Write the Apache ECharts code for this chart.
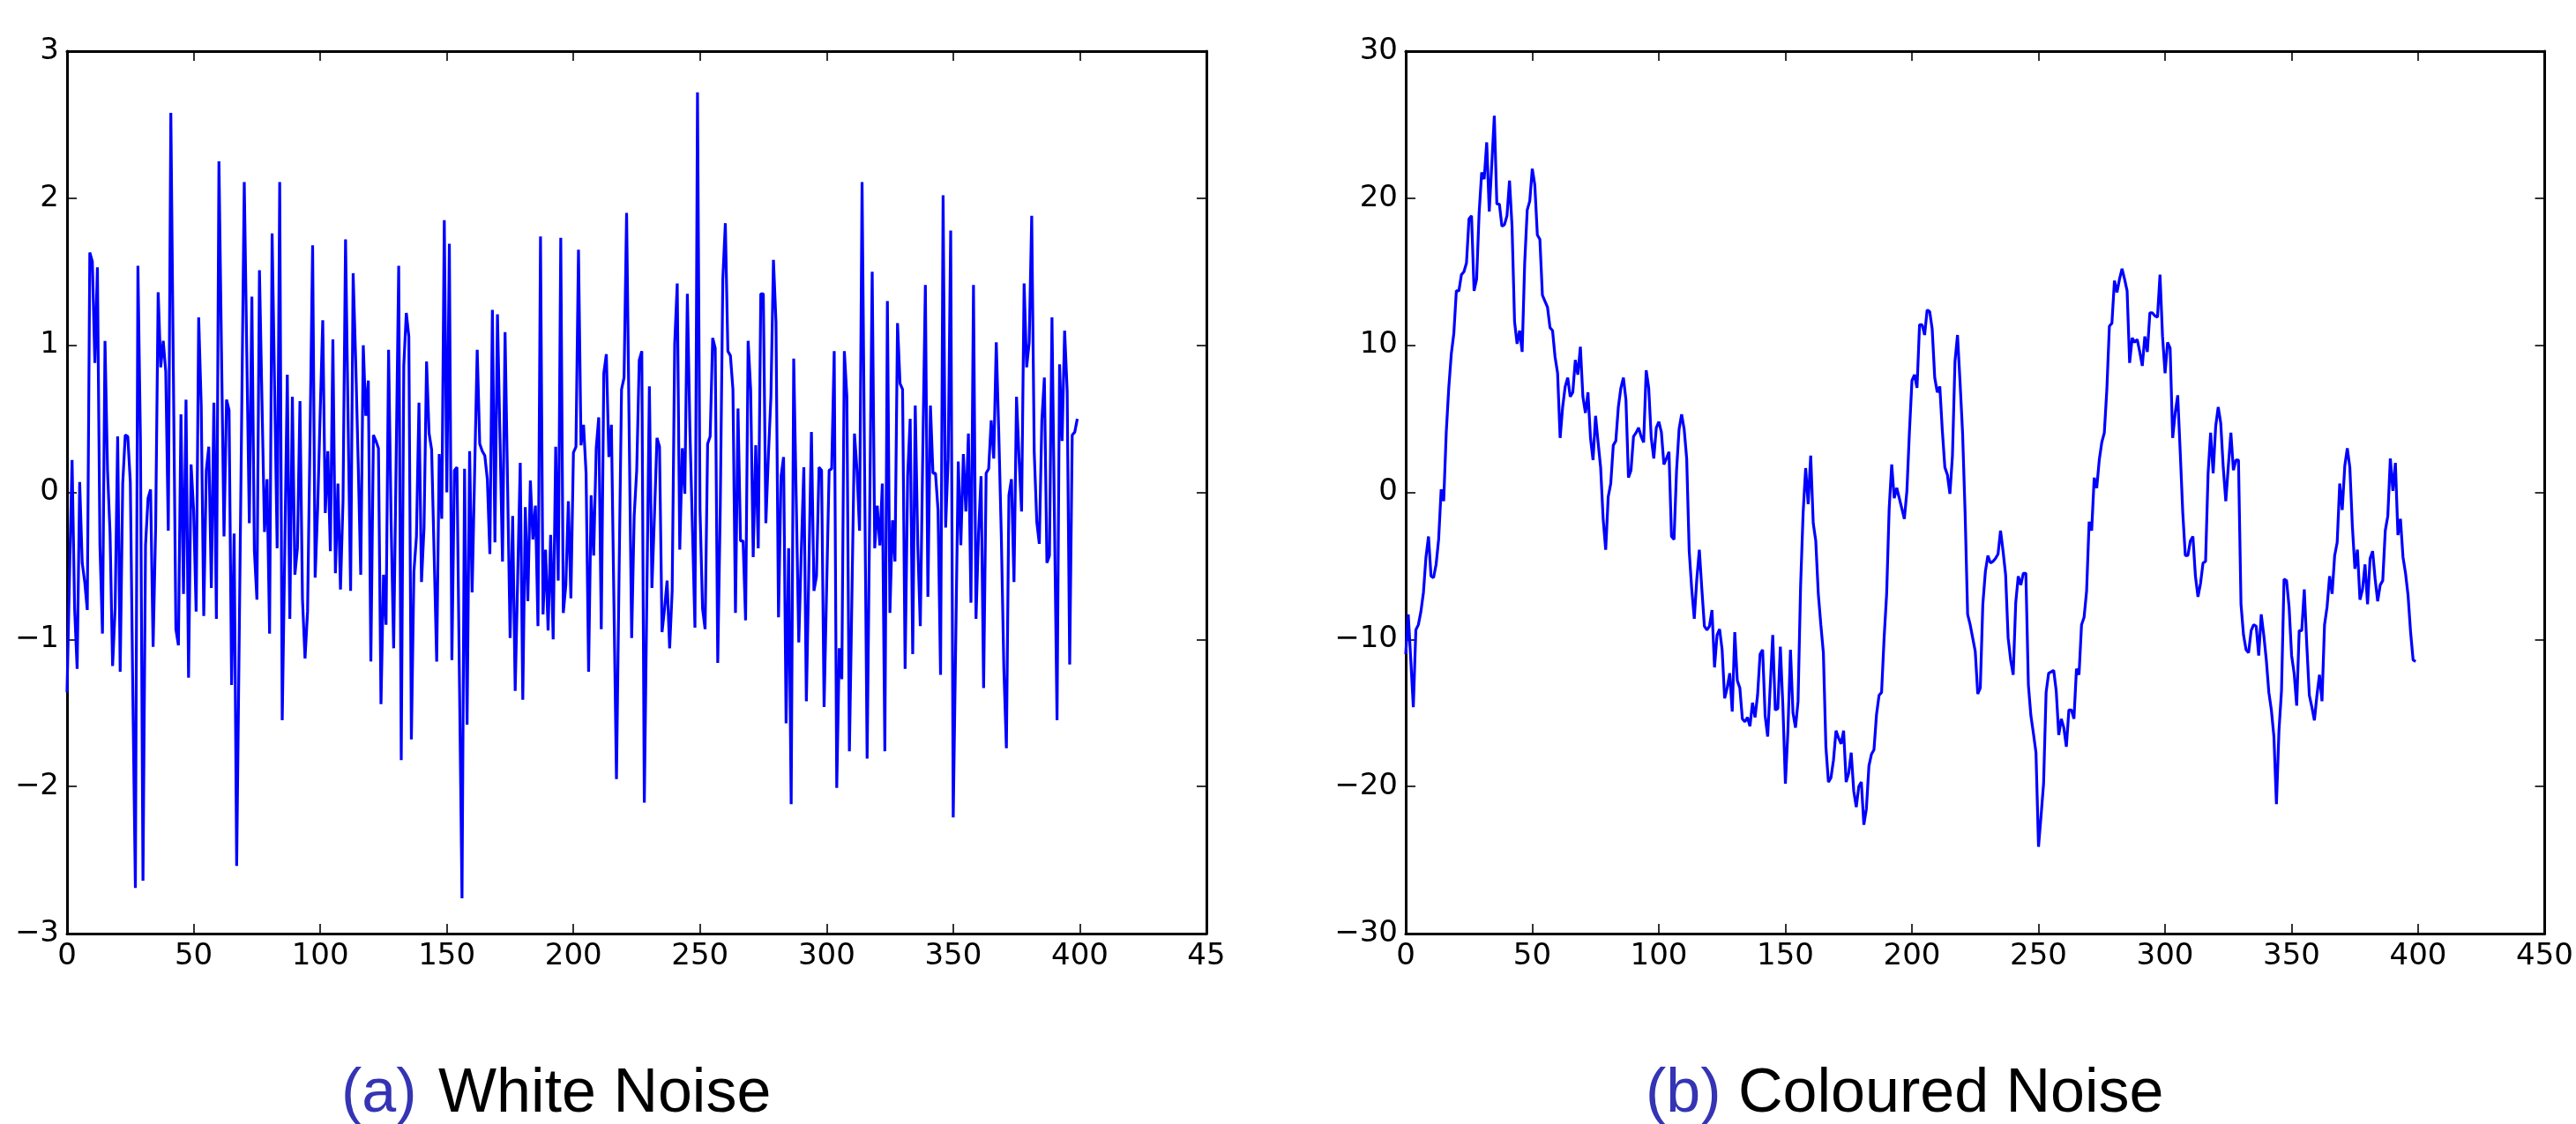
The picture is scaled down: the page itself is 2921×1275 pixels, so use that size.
<!DOCTYPE html>
<html>
<head>
<meta charset="utf-8">
<script src="https://cdn.jsdelivr.net/npm/echarts@6/dist/echarts.min.js"></script>
<style>
  html, body { margin: 0; padding: 0; background: #fff; }
  #chart { width: 2921px; height: 1275px; }
</style>
</head>
<body>
<div id="chart"></div>
<script>
// tick values
const xTicks = [0, 50, 100, 150, 200, 250, 300, 350, 400, 450];
const whiteTicks = [-3, -2, -1, 0, 1, 2, 3];
const colouredTicks = [-30, -20, -10, 0, 10, 20, 30];

// captions
const captionTags = ['(a)', '(b)'];
const captionTexts = ['White Noise', 'Coloured Noise'];

// (a) white noise, one value per sample (x = 0..399)
const whiteNoise = [
  -1.36,-0.55,0.22,-0.79,-1.20,0.07,-0.48,-0.61,-0.80,1.63,1.57,0.88,1.53,-0.36,-0.96,1.03,0.15,-0.28,-1.18,-0.79,
  0.38,-1.22,0.06,0.39,0.38,0.07,-1.38,-2.69,1.54,0.35,-2.64,-0.36,-0.04,0.02,-1.05,-0.24,1.36,0.85,1.03,0.82,
  -0.26,2.58,0.82,-0.93,-1.04,0.53,-0.69,0.63,-1.26,0.19,-0.12,-0.81,1.19,0.59,-0.84,0.15,0.31,-0.65,0.61,-0.86,
  2.25,0.97,-0.30,0.63,0.56,-1.31,-0.28,-2.54,-1.00,0.55,2.11,0.95,-0.21,1.33,-0.40,-0.73,1.51,0.62,-0.27,0.09,
  -0.96,1.76,0.70,-0.38,2.11,-1.55,-0.40,0.80,-0.86,0.65,-0.56,-0.38,0.62,-0.73,-1.13,-0.81,0.40,1.68,-0.58,-0.10,
  0.55,1.17,-0.14,0.28,-0.40,1.04,-0.55,0.06,-0.66,-0.06,1.72,0.50,-0.67,1.49,0.90,0.20,-0.56,1.00,0.52,0.76,
  -1.15,0.39,0.35,0.30,-1.44,-0.56,-0.90,0.97,-0.20,-1.06,0.24,1.54,-1.82,0.86,1.22,1.06,-1.68,-0.54,-0.30,0.61,
  -0.61,-0.24,0.89,0.40,0.29,-0.43,-1.15,0.26,-0.18,1.85,0.00,1.69,-1.14,0.15,0.17,-1.30,-2.76,0.16,-1.58,0.28,
  -0.68,0.15,0.97,0.33,0.28,0.25,0.09,-0.42,1.24,-0.34,1.21,0.37,-0.47,1.09,0.05,-0.99,-0.16,-1.35,-0.57,0.20,
  -1.41,-0.10,-0.74,0.08,-0.32,-0.09,-0.91,1.74,-0.83,-0.39,-0.94,-0.29,-1.00,0.31,-0.60,1.73,-0.82,-0.63,-0.06,-0.72,
  0.27,0.31,1.65,0.32,0.46,0.13,-1.22,-0.02,-0.43,0.30,0.51,-0.93,0.81,0.94,0.24,0.46,-0.75,-1.95,-0.60,0.70,
  0.78,1.90,0.45,-0.99,-0.16,0.15,0.90,0.96,-2.11,-0.70,0.72,-0.65,-0.16,0.37,0.31,-0.95,-0.79,-0.60,-1.06,-0.67,
  1.01,1.42,-0.39,0.30,-0.01,1.35,0.43,-0.24,-0.92,2.72,-0.12,-0.79,-0.93,0.33,0.38,1.05,0.98,-1.16,-0.10,1.45,
  1.83,0.96,0.93,0.70,-0.82,0.57,-0.33,-0.33,-0.87,1.03,0.70,-0.44,0.32,-0.38,1.35,1.35,-0.21,0.25,0.65,1.58,
  1.16,-0.85,0.11,0.24,-1.57,-0.38,-2.12,0.91,-0.05,-1.02,-0.40,0.17,-1.42,-0.50,0.41,-0.67,-0.57,0.17,0.15,-1.46,
  -0.65,0.15,0.16,0.96,-2.01,-1.06,-1.27,0.96,0.65,-1.76,-0.70,0.40,0.15,-0.26,2.11,0.15,-1.81,-0.15,1.50,-0.38,
  -0.09,-0.36,0.06,-1.76,1.30,-0.82,-0.19,-0.47,1.15,0.74,0.70,-1.20,0.11,0.50,-1.10,0.59,-0.36,-0.91,0.30,1.41,
  -0.71,0.59,0.13,0.13,-0.12,-1.24,2.02,-0.24,0.23,1.78,-2.21,-1.00,0.21,-0.36,0.26,-0.13,0.40,-0.75,1.41,-0.86,
  -0.28,0.11,-1.33,0.13,0.16,0.49,0.23,1.02,0.40,-0.30,-1.20,-1.74,-0.02,0.09,-0.61,0.65,0.23,-0.13,1.42,0.85,
  1.02,1.88,0.27,-0.20,-0.35,0.49,0.78,-0.48,-0.43,1.19,-0.20,-1.55,0.87,0.35,1.10,0.69,-1.17,0.39,0.41,0.50
];

// (b) coloured noise, one value per sample (x = 0..399)
const colouredNoise = [
  -11.0,-8.3,-11.4,-14.6,-9.35,-9.0,-8.1,-6.8,-4.4,-3.0,-5.7,-5.8,-4.9,-3.2,0.2,-0.6,4.05,7.1,9.4,10.8,
  13.7,13.7,14.8,15.0,15.6,18.6,18.8,13.7,14.5,19.0,21.75,21.3,23.8,19.1,22.3,25.6,19.6,19.6,18.1,18.2,
  18.8,21.2,18.1,11.6,10.1,11.0,9.55,15.6,19.2,19.8,22.0,20.9,17.5,17.2,13.4,13.0,12.6,11.2,11.0,9.2,
  8.1,3.7,5.8,7.2,7.8,6.5,6.8,9.0,8.0,9.9,6.5,5.4,6.8,3.7,2.2,5.2,3.4,1.7,-1.8,-3.9,
  -0.3,0.6,3.2,3.5,5.8,7.1,7.8,6.3,1.0,1.5,3.8,4.05,4.4,3.8,3.4,8.3,7.1,3.7,2.3,4.4,
  4.8,4.1,1.9,2.3,2.75,-3.0,-3.2,1.5,4.3,5.3,4.3,2.3,-4.0,-6.6,-8.6,-5.9,-3.9,-6.6,-9.1,-9.35,
  -9.1,-8.0,-11.9,-9.7,-9.3,-10.7,-14.0,-13.3,-12.3,-14.9,-9.5,-12.8,-13.3,-15.4,-15.6,-15.3,-15.9,-14.3,-15.3,-13.8,
  -11.0,-10.7,-15.2,-16.6,-13.2,-9.7,-14.8,-14.7,-10.5,-14.5,-19.8,-16.2,-10.7,-15.0,-16.0,-14.2,-6.4,-1.4,1.65,-0.8,
  2.5,-2.1,-3.3,-6.9,-9.0,-10.9,-17.3,-19.7,-19.4,-18.2,-16.2,-16.7,-17.1,-16.2,-19.7,-19.1,-17.7,-20.3,-21.4,-20.0,
  -19.7,-22.6,-21.5,-18.6,-17.8,-17.5,-15.1,-13.8,-13.6,-9.9,-6.9,-1.1,1.9,-0.4,0.3,-0.4,-1.1,-1.8,0.1,4.1,
  7.6,8.0,7.1,11.4,11.4,10.7,12.4,12.3,11.1,7.8,6.8,7.2,4.2,1.7,1.2,-0.1,2.5,8.9,10.7,7.5,
  4.05,-1.4,-8.3,-9.0,-9.9,-10.8,-13.7,-13.3,-7.6,-5.4,-4.3,-4.8,-4.7,-4.5,-4.2,-2.6,-4.0,-5.6,-9.9,-11.4,
  -12.4,-7.5,-5.7,-6.3,-5.5,-5.5,-13.1,-15.2,-16.4,-17.7,-24.1,-22.0,-19.8,-13.6,-12.3,-12.2,-12.1,-13.5,-16.5,-15.4,
  -16.0,-17.3,-14.8,-14.8,-15.4,-12.0,-12.4,-9.0,-8.5,-6.7,-2.0,-2.6,1.0,0.3,2.2,3.4,4.05,7.0,11.3,11.5,
  14.4,13.6,14.5,15.2,14.5,13.7,8.8,10.5,10.2,10.4,9.55,8.6,10.6,9.55,12.2,12.2,12.0,11.9,14.8,10.6,
  8.1,10.2,9.8,3.7,5.4,6.6,2.7,-1.4,-4.3,-4.3,-3.3,-3.0,-5.7,-7.1,-6.2,-4.8,-4.7,1.3,4.05,1.3,
  4.5,5.8,4.7,1.65,-0.6,1.8,4.05,1.5,2.2,2.2,-7.6,-9.7,-10.7,-10.9,-9.4,-9.0,-9.1,-11.1,-8.3,-9.7,
  -11.4,-13.6,-14.8,-16.6,-21.2,-16.2,-13.5,-5.9,-6.0,-7.8,-11.1,-12.3,-14.5,-9.4,-9.4,-6.6,-10.4,-13.8,-14.6,-15.5,
  -13.8,-12.4,-14.2,-9.0,-7.8,-5.7,-6.9,-4.3,-3.4,0.6,-1.2,1.8,3.0,1.7,-2.3,-5.2,-3.9,-7.3,-6.6,-4.9,
  -7.6,-4.5,-4.0,-5.9,-7.4,-6.3,-6.0,-2.6,-1.6,2.3,0.1,2.0,-2.9,-1.8,-4.4,-5.5,-7.0,-9.5,-11.4,-11.5
];

const LABEL_FONT = 'DejaVu Sans';
const CAPTION_FONT = '70px "Liberation Sans", Arial, sans-serif';

// matplotlib style minus sign
function fmtNum(v) {
  return v < 0 ? '\u2212' + Math.abs(v) : String(v);
}

function toPoints(arr) {
  return arr.map((v, i) => [i, v]);
}

// one axis in the classic boxed style: ticks inside, frame on all four sides
function makeAxis(gridIndex, ticks, position, withLabels, formatter) {
  return {
    type: 'value',
    gridIndex: gridIndex,
    position: position,
    min: ticks[0],
    max: ticks[ticks.length - 1],
    interval: ticks[1] - ticks[0],
    splitLine: { show: false },
    axisLine: { show: true, onZero: false, lineStyle: { color: '#000', width: 3 } },
    axisTick: { show: true, inside: true, length: 11, lineStyle: { color: '#000', width: 1.6 } },
    axisLabel: {
      show: withLabels,
      color: '#000',
      fontFamily: LABEL_FONT,
      fontSize: 34,
      margin: 9,
      formatter: formatter
    }
  };
}

const chart = echarts.init(document.getElementById('chart'), null, { renderer: 'canvas' });

const grids = [
  { left: 76, top: 58, width: 1292, height: 1001 },
  { left: 1594, top: 58, width: 1293, height: 1001 }
];

function captionStyle(text, colour) {
  return {
    text: text,
    font: CAPTION_FONT,
    fill: colour,
    textAlign: 'left',
    textVerticalAlign: 'middle',
    align: 'left',
    verticalAlign: 'middle'
  };
}

const option = {
  animation: false,
  backgroundColor: '#fff',
  grid: grids,
  xAxis: [
    // the left figure is cropped, so its last label only shows "45"
    makeAxis(0, xTicks, 'bottom', true, v => (v === 450 ? '45' : fmtNum(v))),
    makeAxis(0, xTicks, 'top', false),
    makeAxis(1, xTicks, 'bottom', true, fmtNum),
    makeAxis(1, xTicks, 'top', false)
  ],
  yAxis: [
    makeAxis(0, whiteTicks, 'left', true, fmtNum),
    makeAxis(0, whiteTicks, 'right', false),
    makeAxis(1, colouredTicks, 'left', true, fmtNum),
    makeAxis(1, colouredTicks, 'right', false)
  ],
  series: [
    {
      name: 'White Noise',
      type: 'line',
      xAxisIndex: 0,
      yAxisIndex: 0,
      data: toPoints(whiteNoise),
      showSymbol: false,
      lineStyle: { color: '#0000ff', width: 3.2 },
      z: 1
    },
    {
      name: 'Coloured Noise',
      type: 'line',
      xAxisIndex: 2,
      yAxisIndex: 2,
      data: toPoints(colouredNoise),
      showSymbol: false,
      lineStyle: { color: '#0000ff', width: 3.2 },
      z: 1
    }
  ],
  graphic: [
    { type: 'text', x: 387, y: 1242, style: captionStyle(captionTags[0], '#3434b4') },
    { type: 'text', x: 497, y: 1242, style: captionStyle(captionTexts[0], '#000') },
    { type: 'text', x: 1866, y: 1242, style: captionStyle(captionTags[1], '#3434b4') },
    { type: 'text', x: 1971, y: 1242, style: captionStyle(captionTexts[1], '#000') }
  ]
};

chart.setOption(option);
</script>
</body>
</html>
